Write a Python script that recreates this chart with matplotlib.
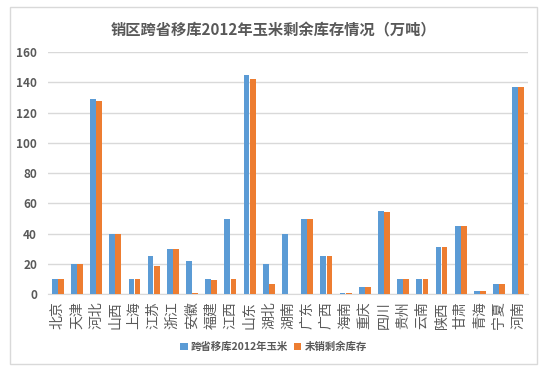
import matplotlib.pyplot as plt
import numpy as np
from matplotlib.patches import Rectangle

plt.rcParams['font.family'] = ['Noto Sans CJK SC', 'DejaVu Sans']

provinces = ["北京", "天津", "河北", "山西", "上海", "江苏", "浙江", "安徽", "福建", "江西",
             "山东", "湖北", "湖南", "广东", "广西", "海南", "重庆", "四川", "贵州", "云南",
             "陕西", "甘肃", "青海", "宁夏", "河南"]
moved = [10, 20, 129, 40, 10, 25, 30, 22, 10, 50,
         145, 20, 40, 50, 25, 1, 5, 55, 10, 10,
         31, 45, 2, 7, 137]
unsold = [10, 20, 128, 40, 10, 18.5, 30, 1, 9.5, 10,
          142, 7, 0, 50, 25, 1, 5, 54, 10, 10,
          31, 45, 2, 7, 137]

blue = "#5b9bd5"
orange = "#ed7d31"
gray = "#595959"

fig = plt.figure(figsize=(5.47, 3.70), dpi=100)
ax = fig.add_axes([0.088, 0.205, 0.877, 0.654])

x = np.arange(len(provinces))
w = 0.3
ax.bar(x - w / 2 - 0.01, moved, w, color=blue, label="跨省移库2012年玉米", zorder=3)
ax.bar(x + w / 2 + 0.01, unsold, w, color=orange, label="未销剩余库存", zorder=3)

ax.set_xlim(-0.5, len(provinces) - 0.5)
ax.set_ylim(0, 160)
ax.set_yticks(range(0, 161, 20))
ax.yaxis.grid(True, color="#d9d9d9", linewidth=1)
ax.set_axisbelow(True)
for s in ["top", "right", "left"]:
    ax.spines[s].set_visible(False)
ax.spines["bottom"].set_color("#d9d9d9")
ax.tick_params(axis="y", length=0, labelsize=8.5, labelcolor=gray, pad=8)
ax.tick_params(axis="x", length=0, labelsize=10, labelcolor=gray, pad=5)
for lab in ax.get_yticklabels():
    lab.set_fontweight("bold")
ax.set_xticks(x)
ax.set_xticklabels(provinces, rotation=90, va="top", ha="center")

fig.suptitle("销区跨省移库2012年玉米剩余库存情况（万吨）", x=0.5, y=0.94,
             fontsize=11, color=gray, fontweight="bold")

leg = fig.legend(loc="center", bbox_to_anchor=(0.5, 0.062), ncol=2, frameon=False,
                 fontsize=7.5, handlelength=0.7, handleheight=0.7, columnspacing=0.6,
                 handletextpad=0.3)
for t in leg.get_texts():
    t.set_color(gray)
    t.set_fontweight("bold")

fig.patches.append(Rectangle((0.018, 0.015), 0.964, 0.965, transform=fig.transFigure,
                             fill=False, edgecolor="#d9d9d9", linewidth=1))

fig.savefig("out.png", dpi=100)
